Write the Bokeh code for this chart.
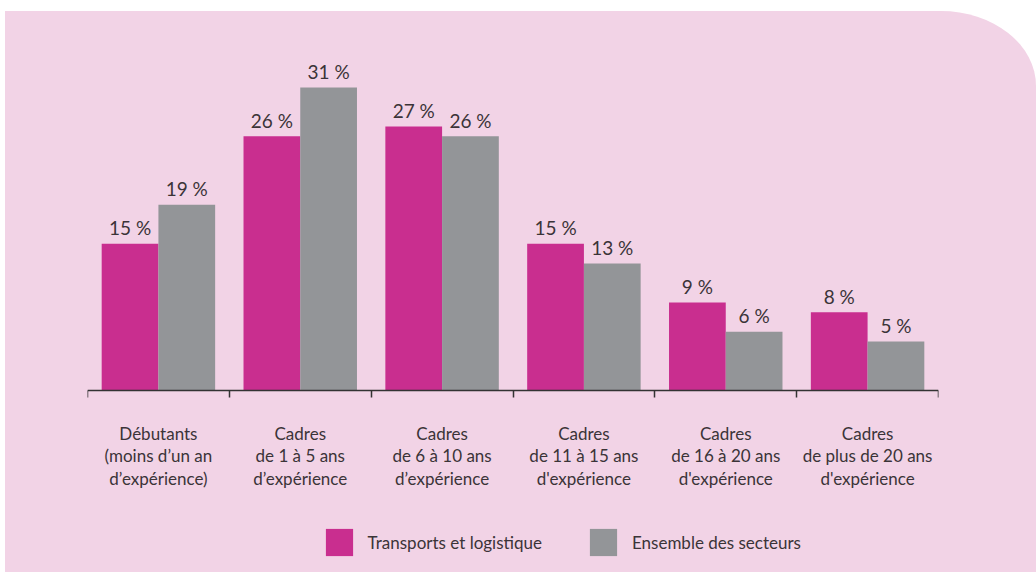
from bokeh.plotting import figure
from bokeh.models import ColumnDataSource, FixedTicker, LinearAxis, Range1d, Legend, LegendItem
from bokeh.core.properties import value
from bokeh.embed import file_html
from bokeh.resources import INLINE

categories = [
    "Débutants\n(moins d’un an\nd’expérience)",
    "Cadres\nde 1 à 5 ans\nd’expérience",
    "Cadres\nde 6 à 10 ans\nd’expérience",
    "Cadres\nde 11 à 15 ans\nd'expérience",
    "Cadres\nde 16 à 20 ans\nd'expérience",
    "Cadres\nde plus de 20 ans\nd'expérience",
]
transports = [15, 26, 27, 15, 9, 8]
ensemble = [19, 31, 26, 13, 6, 5]
series_names = ["Transports et logistique", "Ensemble des secteurs"]

PINK = "#f2d3e6"
MAGENTA = "#c92e8f"
GREY = "#939598"
TEXT = "#3b3438"
FONT = "Lato"

# layout (pixels): frame top 27, bars zone 352 px for 0..36, 182 px below the baseline
Y_TOP = 36
PX_PER_UNIT = 352 / Y_TOP
Y_BOTTOM = -182 / PX_PER_UNIT

idx = list(range(len(categories)))
src1 = ColumnDataSource(dict(x=[i - 0.2 for i in idx], top=transports,
                             lab=[f"{v} %" for v in transports]))
src2 = ColumnDataSource(dict(x=[i + 0.2 for i in idx], top=ensemble,
                             lab=[f"{v} %" for v in ensemble]))

p = figure(width=1031, height=561, x_range=Range1d(-0.5, len(categories) - 0.5),
           y_range=Range1d(Y_BOTTOM, Y_TOP), output_backend="svg", toolbar_location=None,
           x_axis_type=None, y_axis_type=None,
           min_border_left=82, min_border_right=98, min_border_top=27, min_border_bottom=0)
p.background_fill_alpha = 0
p.border_fill_alpha = 0
p.outline_line_color = None
p.grid.visible = False
p.styles = {"border-top-right-radius": "95px 75px", "overflow": "hidden",
            "background-color": PINK,
            "margin-left": "5px", "margin-top": "11px"}

r1 = p.vbar(x="x", top="top", width=0.4, source=src1, fill_color=MAGENTA, line_color=None)
r2 = p.vbar(x="x", top="top", width=0.4, source=src2, fill_color=GREY, line_color=None)

for s in (src1, src2):
    p.text(x="x", y="top", text="lab", source=s, text_align="center", text_baseline="alphabetic",
           y_offset=-16, text_font=value(FONT), text_font_size="19px", text_color=TEXT)

ax = LinearAxis(ticker=FixedTicker(ticks=idx, minor_ticks=[i - 0.5 for i in range(len(categories) + 1)]),
                fixed_location=0)
ax.major_label_overrides = {i: c for i, c in enumerate(categories)}
ax.major_tick_line_color = None
ax.major_tick_out = 0
ax.major_tick_in = 0
ax.minor_tick_line_color = "#333333"
ax.minor_tick_line_width = 1.5
ax.minor_tick_out = 7
ax.minor_tick_in = 0
ax.axis_line_color = "#333333"
ax.axis_line_width = 1.5
ax.major_label_standoff = 25
ax.major_label_text_font = FONT
ax.major_label_text_font_size = "17px"
ax.major_label_text_color = TEXT
ax.major_label_text_line_height = 1.08
p.add_layout(ax, "below")

legend = Legend(items=[LegendItem(label=series_names[0], renderers=[r1]),
                       LegendItem(label=series_names[1], renderers=[r2])],
                orientation="horizontal", location=(234.6, 13),
                glyph_width=34, glyph_height=34, label_standoff=12, spacing=44,
                padding=0, margin=0, border_line_color=None, background_fill_alpha=0,
                label_text_font=FONT, label_text_font_size="17px", label_text_color=TEXT)
p.add_layout(legend, "center")

open("out.html", "w").write(file_html(p, INLINE))
